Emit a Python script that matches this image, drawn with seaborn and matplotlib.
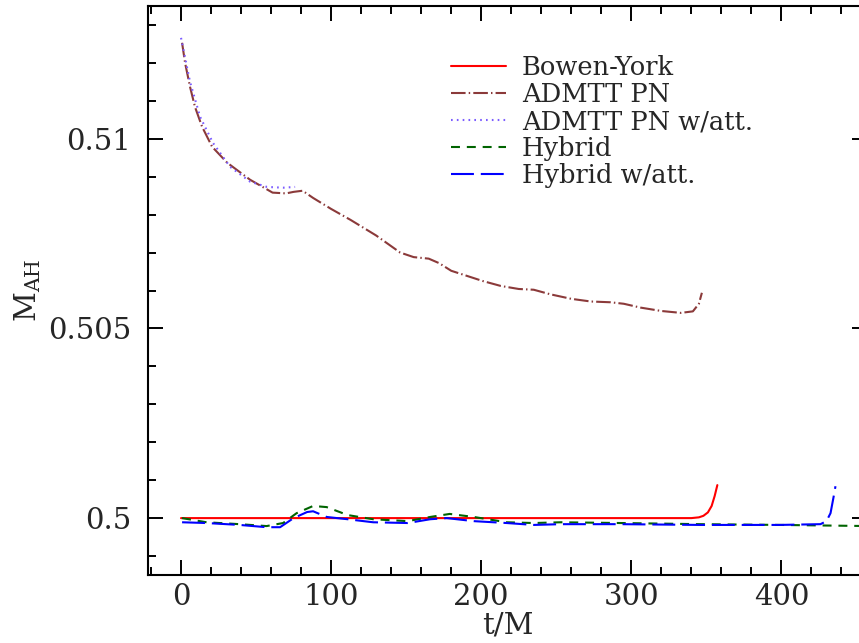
import numpy as np
import pandas as pd
import matplotlib
matplotlib.use("Agg")
import matplotlib.pyplot as plt
from matplotlib.ticker import MultipleLocator, FuncFormatter
import seaborn as sns

# --- data (t/M, M_AH) ---
bowen_t = [0, 50, 100, 150, 200, 250, 300, 340, 345, 348, 351, 353.5, 355.5, 357.3]
bowen_m = [0.5, 0.5, 0.5, 0.5, 0.5, 0.5, 0.5, 0.5, 0.50002, 0.50006, 0.50015,
           0.50032, 0.50058, 0.50087]

admtt_t = [0.7, 2.7, 6, 9.3, 14, 20.7, 30.7, 46, 61, 70, 75, 81, 88, 100, 113, 130,
           146, 155, 165, 172, 180, 201, 213, 225, 235, 246, 260, 273, 286, 295,
           306, 320, 333, 341, 345, 347]
admtt_m = [0.51253, 0.51200, 0.51137, 0.51084, 0.51032, 0.50979, 0.50937, 0.50892,
           0.50858, 0.50856, 0.50860, 0.50863, 0.50844, 0.50815, 0.50786, 0.50745,
           0.50700, 0.50688, 0.50684, 0.50672, 0.50652, 0.50625, 0.50612, 0.50604,
           0.50602, 0.50590, 0.50578, 0.50571, 0.50569, 0.50565, 0.50555, 0.50546,
           0.50541, 0.50545, 0.50565, 0.50594]

admtt_att_t = [0, 6, 12.7, 21.3, 32.7, 46, 57.3, 68, 76]
admtt_att_m = [0.51266, 0.51150, 0.51058, 0.50989, 0.50926, 0.50887, 0.50873, 0.50871, 0.50873]

hybrid_t = [0.7, 17, 39, 57, 68, 77, 88, 97, 111, 128, 151, 166, 179, 195, 217, 235,
            253, 293, 346, 399, 458]
hybrid_m = [0.5, 0.49989, 0.49984, 0.49979, 0.49987, 0.50013, 0.50032, 0.50029,
            0.50008, 0.49997, 0.49992, 0.50003, 0.50011, 0.50003, 0.49989, 0.49987,
            0.49989, 0.49987, 0.49984, 0.49982, 0.49979]

hybrid_att_t = [0.7, 17, 39, 57, 66, 75, 84, 88, 97, 111, 128, 151, 166, 177, 195, 217,
                235, 253, 293, 346, 399, 426, 430, 432.7, 434.7, 436]
hybrid_att_m = [0.49989, 0.49987, 0.49982, 0.49976, 0.49976, 0.5, 0.50016, 0.50018,
                0.50003, 0.49997, 0.49989, 0.49987, 0.49997, 0.5, 0.49992, 0.49987,
                0.49982, 0.49984, 0.49984, 0.49982, 0.49982, 0.49984, 0.49992,
                0.50013, 0.50055, 0.50084]

labels = ["Bowen-York", "ADMTT PN", "ADMTT PN w/att.", "Hybrid", "Hybrid w/att."]
series = [(bowen_t, bowen_m), (admtt_t, admtt_m), (admtt_att_t, admtt_att_m),
          (hybrid_t, hybrid_m), (hybrid_att_t, hybrid_att_m)]

frames = []
for name, (t, m) in zip(labels, series):
    frames.append(pd.DataFrame({"t": t, "M": m, "run": name}))
df = pd.concat(frames, ignore_index=True)

colors = {"Bowen-York": "#ff0000", "ADMTT PN": "#8b3a3a",
          "ADMTT PN w/att.": "#7b5cff", "Hybrid": "#006400",
          "Hybrid w/att.": "#0000ff"}
dashes = {"Bowen-York": "", "ADMTT PN": (7, 1.5, 0.7, 1.5),
          "ADMTT PN w/att.": (0.8, 2.0), "Hybrid": (4.3, 3.3),
          "Hybrid w/att.": (11, 3.3)}

# --- plot ---
sns.set_theme(style="ticks")
plt.rcParams["font.family"] = ["DejaVu Serif"]
plt.rcParams["mathtext.fontset"] = "dejavuserif"

fig = plt.figure(figsize=(8.59, 6.43), dpi=100)
ax = fig.add_axes([148 / 859, 68 / 643, (867 - 148) / 859, (575 - 6) / 643])

sns.lineplot(data=df, x="t", y="M", hue="run", style="run", hue_order=labels,
             style_order=labels, palette=colors, dashes=dashes, estimator=None,
             sort=False, linewidth=1.5, ax=ax)

ax.set_xlim(-22, 457)
ax.set_ylim(0.4985, 0.5135)

ax.xaxis.set_major_locator(MultipleLocator(100))
ax.xaxis.set_minor_locator(MultipleLocator(20))
ax.yaxis.set_major_locator(MultipleLocator(0.005))
ax.yaxis.set_minor_locator(MultipleLocator(0.001))
ax.yaxis.set_major_formatter(FuncFormatter(lambda v, p: f"{v:g}"))

ax.tick_params(which="both", direction="in", top=True, right=True, width=1.4,
               color="black")
ax.tick_params(which="major", length=11, labelsize=21)
ax.tick_params(axis="x", which="major", pad=6)
ax.tick_params(axis="y", which="major", pad=12)
ax.tick_params(which="minor", length=5.5)
for s in ax.spines.values():
    s.set_linewidth(1.5)
    s.set_color("black")

ax.set_xlabel("t/M", fontsize=21, labelpad=0)
ax.set_ylabel(r"$\mathrm{M_{AH}}$", fontsize=21, labelpad=4)

ax.legend(loc="upper left", bbox_to_anchor=(451 / 859, 1 - 55 / 643),
          bbox_transform=fig.transFigure, frameon=False, fontsize=18.5,
          handlelength=2.15, handletextpad=0.6, labelspacing=0.08,
          borderpad=0, borderaxespad=0)

fig.savefig("out.png", dpi=100)
